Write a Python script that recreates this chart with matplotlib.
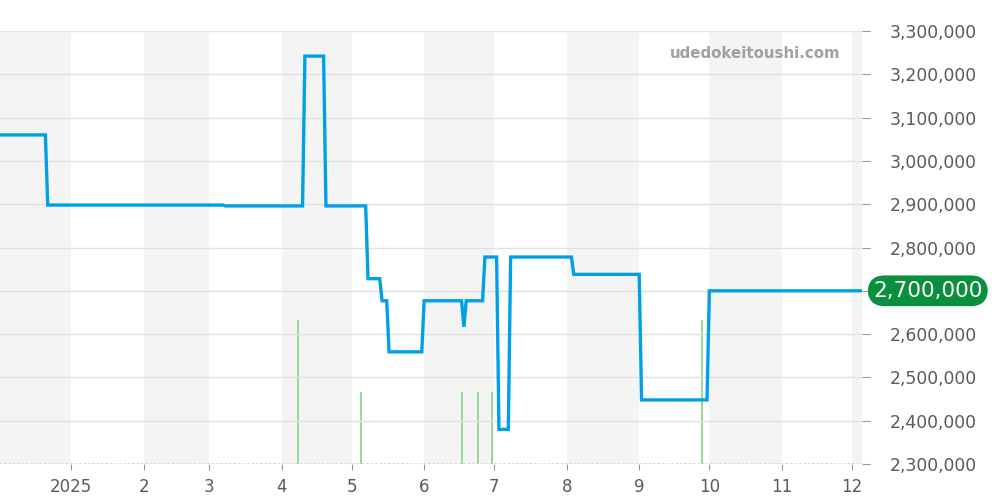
import datetime as dt
import matplotlib
matplotlib.use("Agg")
import matplotlib.pyplot as plt
import matplotlib.dates as mdates
from matplotlib.ticker import FuncFormatter

d = dt.date

# price history (step changes)
price_dates = [
    d(2024, 12, 1), d(2024, 12, 21), d(2024, 12, 22), d(2025, 3, 7), d(2025, 3, 8),
    d(2025, 4, 10), d(2025, 4, 11), d(2025, 4, 19), d(2025, 4, 20),
    d(2025, 5, 7), d(2025, 5, 8), d(2025, 5, 13), d(2025, 5, 14), d(2025, 5, 16), d(2025, 5, 17),
    d(2025, 5, 31), d(2025, 6, 1), d(2025, 6, 17), d(2025, 6, 18), d(2025, 6, 19),
    d(2025, 6, 26), d(2025, 6, 27), d(2025, 7, 2), d(2025, 7, 3), d(2025, 7, 7), d(2025, 7, 8),
    d(2025, 8, 3), d(2025, 8, 4), d(2025, 9, 1), d(2025, 9, 2), d(2025, 9, 30), d(2025, 10, 1),
    d(2025, 12, 6),
]
prices = [
    3060000, 3060000, 2898000, 2898000, 2896000,
    2896000, 3242000, 3242000, 2896000,
    2896000, 2728000, 2728000, 2677000, 2677000, 2559000,
    2559000, 2677000, 2677000, 2617000, 2677000,
    2677000, 2778000, 2778000, 2380000, 2380000, 2778000,
    2778000, 2738000, 2738000, 2448000, 2448000, 2700000,
    2700000,
]

# trade volume
vol_dates = [d(2025, 4, 8), d(2025, 5, 5), d(2025, 6, 17), d(2025, 6, 24), d(2025, 6, 30), d(2025, 9, 28)]
volumes = [2, 1, 1, 1, 1, 2]

month_starts = [d(2025, m, 1) for m in range(1, 13)]
month_labels = ["2025"] + [str(m) for m in range(2, 13)]
shaded_months = [(d(2024, 12, 1), d(2025, 1, 1)), (d(2025, 2, 1), d(2025, 3, 1)),
                 (d(2025, 4, 1), d(2025, 5, 1)), (d(2025, 6, 1), d(2025, 7, 1)),
                 (d(2025, 8, 1), d(2025, 9, 1)), (d(2025, 10, 1), d(2025, 11, 1)),
                 (d(2025, 12, 1), d(2026, 1, 1))]
last_price = 2700000

x_min = dt.datetime(2024, 12, 1, 14)
x_max = dt.datetime(2025, 12, 5, 7)

text_col = "#5a5a5a"

fig = plt.figure(figsize=(10, 5), dpi=100)
rect = [0, 0.072, 0.862, 0.866]
ax = fig.add_axes(rect)
ax_vol = ax.twinx()
ax.set_zorder(ax_vol.get_zorder() + 1)
ax.patch.set_visible(False)

# month bands and volume on the back axes
for a, b in shaded_months:
    ax_vol.axvspan(a, b, color="#f4f4f4", lw=0, zorder=0)
ax_vol.vlines(vol_dates, 0, volumes, color="#8fd68f", lw=1.3, zorder=2)
ax_vol.axhline(0, color="#a8dca8", lw=1.2, ls=":", zorder=2)
ax_vol.set_ylim(0, 6)
ax_vol.set_yticks([])
for s in ax_vol.spines.values():
    s.set_visible(False)

# price line
ax.plot(price_dates, prices, color="#00a0e9", lw=2.4, zorder=3, solid_joinstyle="miter")
ax.set_xlim(x_min, x_max)
ax.set_ylim(2300000, 3300000)
ax.set_yticks(range(2300000, 3300001, 100000))
# the badge sits on top of the current price label
ax.yaxis.set_major_formatter(FuncFormatter(lambda v, p: "" if int(v) == last_price else f"{int(v):,}"))
ax.yaxis.tick_right()
ax.grid(axis="y", color="#e0e0e0", lw=1)
ax.set_axisbelow(True)
ax.set_xticks(month_starts)
ax.set_xticklabels(month_labels)
ax.tick_params(axis="x", length=4, color="#999999", labelsize=12, labelcolor=text_col, pad=6)
ax.tick_params(axis="y", length=6, color="#999999", labelsize=12.4, labelcolor=text_col, pad=14)
for s in ax.spines.values():
    s.set_visible(False)

ax.text(0.876, 0.949, "udedokeitoushi.com", transform=ax.transAxes, ha="center", va="center",
        fontsize=10.8, fontweight="bold", color="#a0a0a0")

# current price badge
ax.annotate(f"{last_price:,}", xy=(1.0, last_price), xycoords=("axes fraction", "data"),
            xytext=(8, 0), textcoords="offset points", ha="left", va="center",
            fontsize=15.5, color="white",
            bbox=dict(boxstyle="round,pad=0.25,rounding_size=0.8", fc="#0a8f3c", ec="none"))

fig.savefig("out.png", dpi=100)
